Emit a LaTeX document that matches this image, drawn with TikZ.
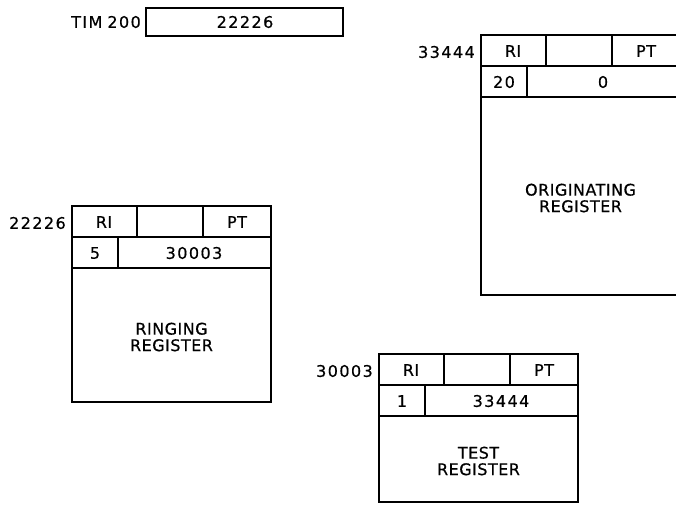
\documentclass[tikz,border=0pt]{standalone}
\usepackage{fontspec}
\setmainfont{DejaVu Sans}[LetterSpace=3, FakeBold=0.5]
\usepackage{tikz}
\tikzset{
    regline/.style={line width=1.3pt, color=black},
    regtext/.style={font=\fontsize{16}{16.5}\selectfont, inner sep=0pt, align=center},
    regnum/.style={regtext, font=\fontsize{16}{16.5}\selectfont\addfontfeatures{LetterSpace=9}}
}
% one register: name, left, top, body height, address, count, pointer, title
\newcommand{\regbox}[8]{%
    \begin{scope}[shift={(#2,#3)}]
        \draw[regline] (0,0) rectangle (199,62+#4);
        \draw[regline] (0,31) -- (199,31);
        \draw[regline] (0,62) -- (199,62);
        \draw[regline] (65,0) -- (65,31);
        \draw[regline] (131,0) -- (131,31);
        \draw[regline] (46,31) -- (46,62);
        \node[regnum, anchor=east] (#1addr) at (-6,17) {#5};
        \node[regtext] (#1ri) at (32,16) {RI};
        \node[regtext] (#1pt) at (165,16) {PT};
        \node[regnum] (#1count) at (23,47) {#6};
        \node[regnum] (#1link) at (122,47) {#7};
        \node[regtext] (#1title) at (99.5,64+#4/2) {#8};
    \end{scope}
}

\begin{document}
\begin{tikzpicture}[x=1pt, y=-1pt]
        \useasboundingbox (0,0) rectangle (676,504);

        \coordinate (T1) at (146,8);
        \coordinate (T2) at (343,36);
        \draw[regline] (T1) rectangle (T2);
        \node[regnum, anchor=east] (timlabel) at (141,22) {TIM\hspace{5pt}200};
        \node[regnum] (timvalue) at (245,22) {22226};

        \regbox{orig}{481}{35}{198}{33444}{20}{0}{ORIGINATING\\REGISTER}
        \regbox{ring}{72}{206}{134}{22226}{5}{30003}{RINGING\\REGISTER}
        \regbox{test}{379}{354}{86}{30003}{1}{33444}{TEST\\REGISTER}

    \end{tikzpicture}
\end{document}
